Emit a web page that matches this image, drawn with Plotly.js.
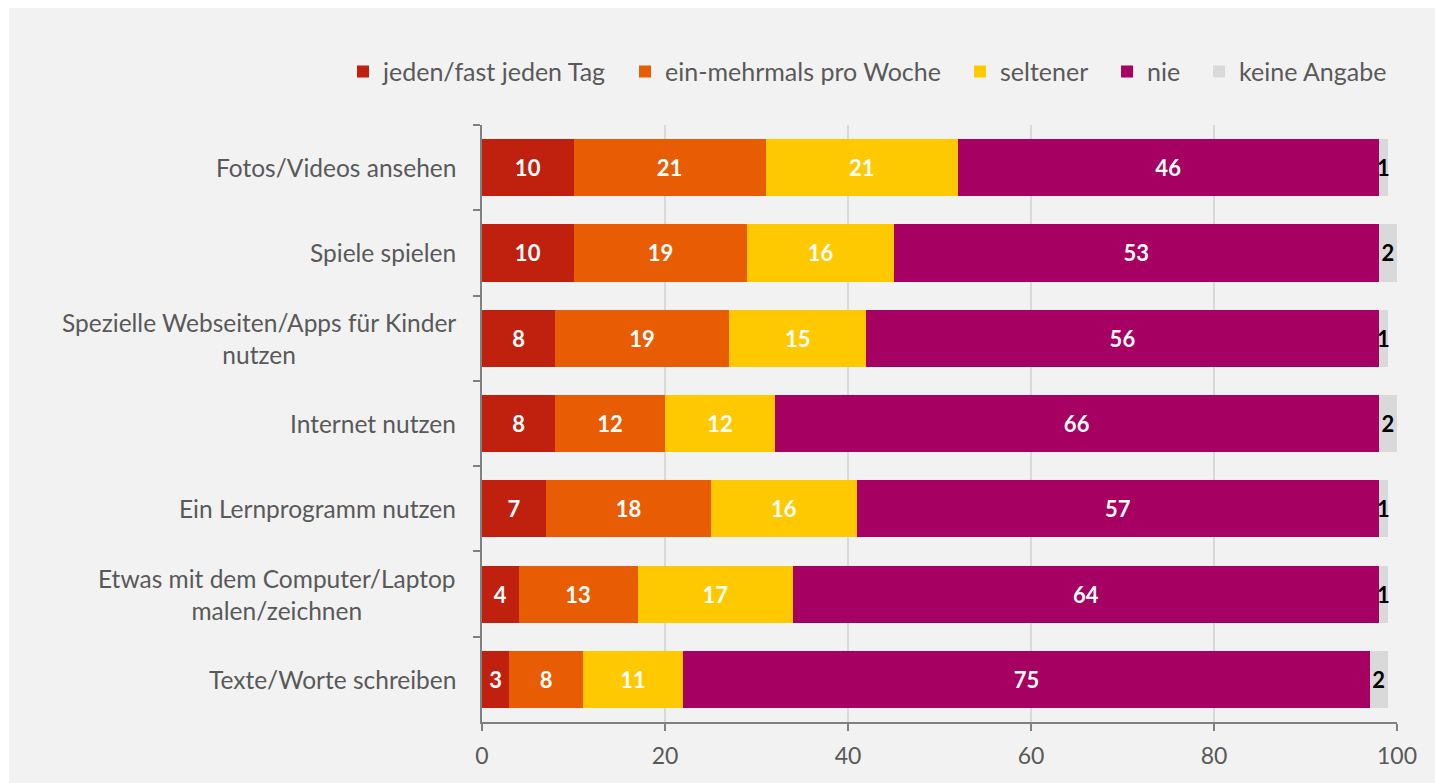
<!DOCTYPE html>
<html>
<head>
<meta charset="utf-8">
<script src="https://cdn.plot.ly/plotly-3.0.1.min.js"></script>
<style>
  html, body { margin: 0; padding: 0; background: #ffffff; }
  #chart { position: absolute; left: 9px; top: 8px; width: 1426px; height: 775px; }
</style>
</head>
<body>
<div id="chart"></div>
<script>
const categories = [
  "Fotos/Videos ansehen",
  "Spiele spielen",
  "Spezielle Webseiten/Apps für Kinder<br>nutzen",
  "Internet nutzen",
  "Ein Lernprogramm nutzen",
  "Etwas mit dem Computer/Laptop<br>malen/zeichnen",
  "Texte/Worte schreiben"
];
const seriesNames = ["jeden/fast jeden Tag", "ein-mehrmals pro Woche", "seltener", "nie", "keine Angabe"];
const jeden = [10, 10, 8, 8, 7, 4, 3];
const mehrmals = [21, 19, 19, 12, 18, 13, 8];
const seltener = [21, 16, 15, 12, 16, 17, 11];
const nie = [46, 53, 56, 66, 57, 64, 75];
const keineAngabe = [1, 2, 1, 2, 1, 1, 2];
const xTicks = [0, 20, 40, 60, 80, 100];

const colors = ["#C0210F", "#E85D04", "#FFC900", "#A50062", "#D9D9D9"];
const textColors = ["#ffffff", "#ffffff", "#ffffff", "#ffffff", "#000000"];
const legendX = [-0.1519, 0.1563, 0.5224, 0.6831, 0.7836];
const allSeries = [jeden, mehrmals, seltener, nie, keineAngabe];
const font = "Lato, 'Open Sans', sans-serif";
const labelSize = 24.5;

const traces = allSeries.map((vals, i) => ({
  type: "bar",
  orientation: "h",
  name: seriesNames[i],
  legend: i === 0 ? "legend" : "legend" + (i + 1),
  y: categories,
  x: vals,
  text: vals.map(String),
  textposition: "inside",
  insidetextanchor: "middle",
  constraintext: "none",
  cliponaxis: false,
  textfont: { family: font, size: 22, color: textColors[i], weight: "bold" },
  marker: { color: colors[i], line: { width: 0 } },
  hoverinfo: "x+y+name"
}));

const annotations = categories.map(c => ({
  xref: "paper", yref: "y",
  x: 0, y: c,
  xanchor: "right", yanchor: "middle",
  xshift: -24,
  text: c,
  align: "center",
  showarrow: false,
  font: { family: font, size: labelSize, color: "#595959" }
}));

const layout = {
  barmode: "stack",
  bargap: 0.33,
  paper_bgcolor: "#F2F2F2",
  plot_bgcolor: "#F2F2F2",
  margin: { l: 473, r: 38, t: 117, b: 61 },
  font: { family: font, color: "#595959" },
  showlegend: true,
  xaxis: {
    range: [0, 100],
    tickvals: xTicks,
    ticktext: xTicks.map(String),
    showgrid: true,
    gridcolor: "#D9D9D9",
    gridwidth: 2,
    zeroline: false,
    showline: true,
    linecolor: "#808080",
    linewidth: 2,
    ticks: "outside",
    ticklen: 7,
    tickwidth: 2,
    tickcolor: "#808080",
    ticklabelstandoff: 5,
    tickfont: { family: font, size: 23, color: "#595959" },
    fixedrange: true
  },
  yaxis: {
    type: "category",
    categoryorder: "array",
    categoryarray: categories,
    autorange: "reversed",
    showticklabels: false,
    showgrid: false,
    zeroline: false,
    showline: true,
    linecolor: "#808080",
    linewidth: 2,
    ticks: "outside",
    tickson: "boundaries",
    ticklen: 7,
    tickwidth: 2,
    tickcolor: "#808080",
    fixedrange: true
  },
  annotations: annotations
};

legendX.forEach((lx, i) => {
  const key = i === 0 ? "legend" : "legend" + (i + 1);
  layout[key] = {
    orientation: "h",
    x: lx, xanchor: "left",
    y: 1.089, yanchor: "middle",
    font: { family: font, size: 25, color: "#595959" },
    bgcolor: "rgba(0,0,0,0)"
  };
});

Plotly.newPlot("chart", traces, layout, { displayModeBar: false, responsive: false });
</script>
</body>
</html>
